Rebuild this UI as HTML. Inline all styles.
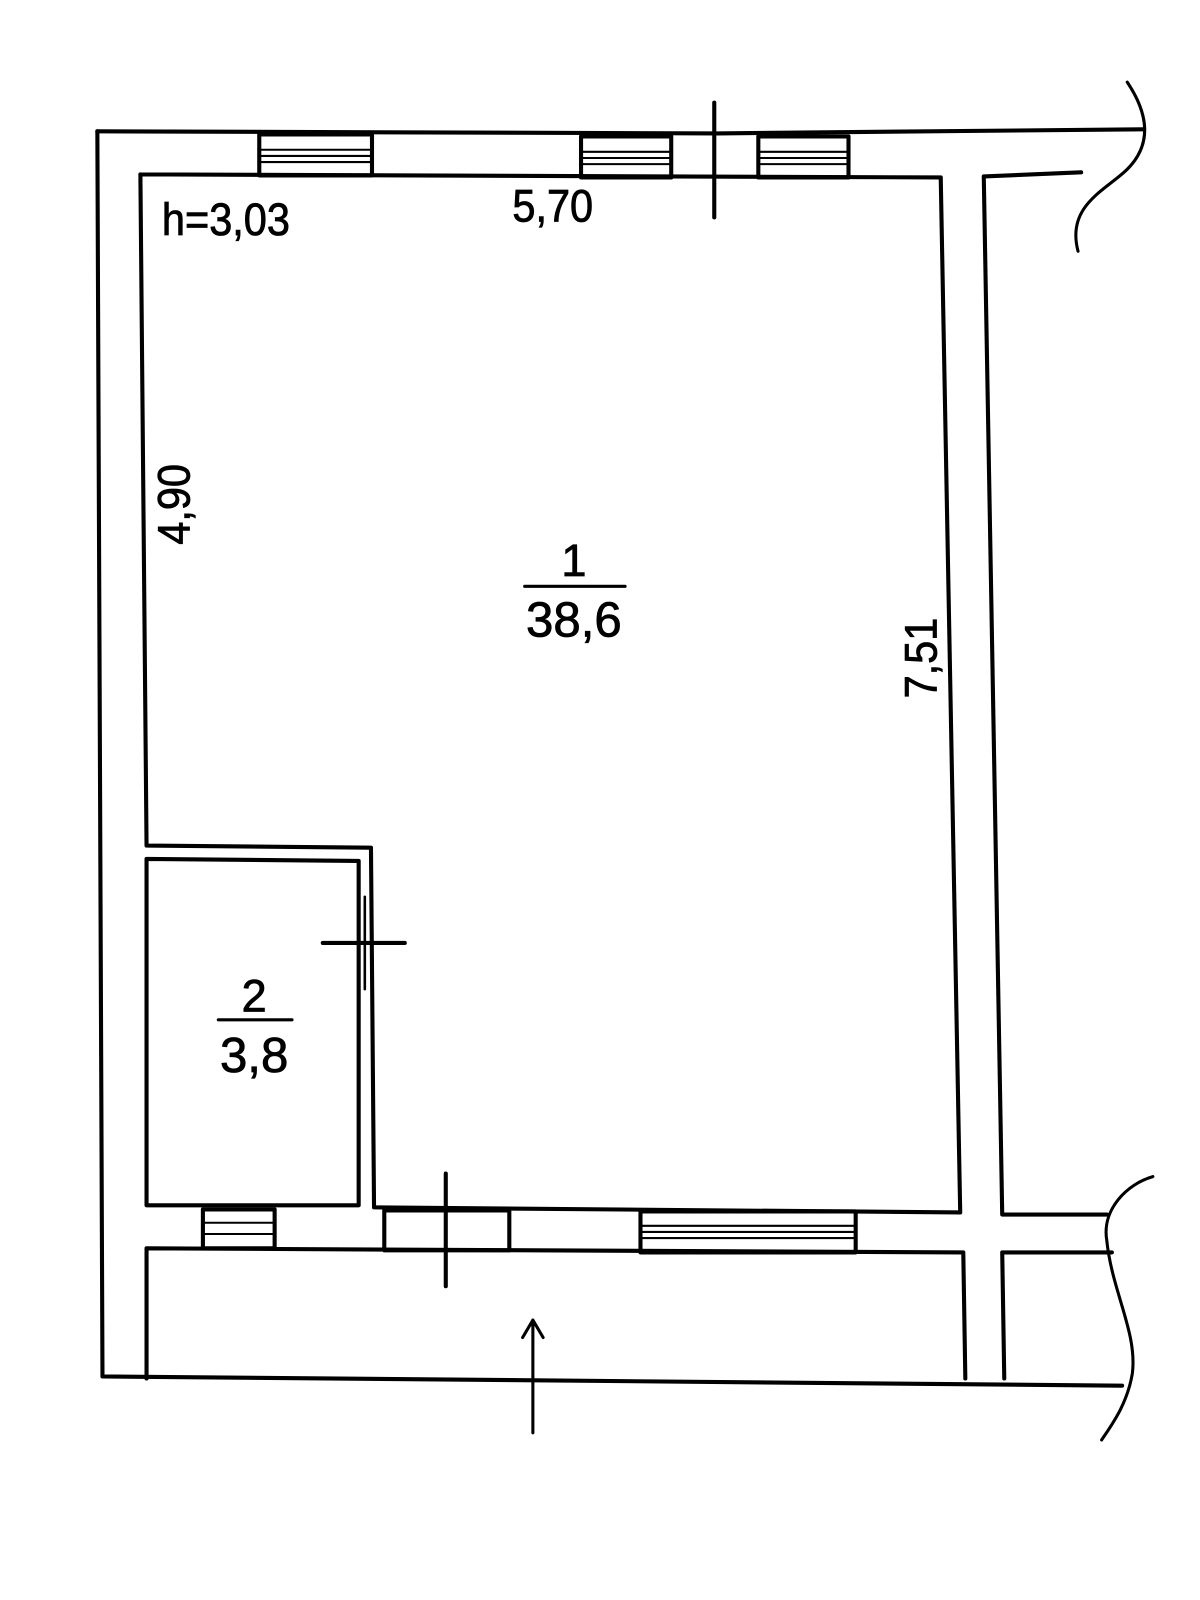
<!DOCTYPE html>
<html><head><meta charset="utf-8"><style>html,body{margin:0;padding:0;background:#fff}svg{display:block}</style></head>
<body>
<svg width="1200" height="1600" viewBox="0 0 1171 1561" xmlns="http://www.w3.org/2000/svg">
<g fill="none" stroke="#000" stroke-width="4" stroke-linecap="round" stroke-linejoin="round">
<path d="M95,128 L700,130 L1115,126"/>
<path d="M95,128 L100,1343 L1095,1352"/>
<path d="M137,170 L918,173 L937,1183 L365,1178 L362,827 L143,825 L137,170"/>
<rect x="253" y="131" width="110" height="40"/>
<path d="M255,146 H361 M255,152 H361 M255,158 H361" stroke-width="2"/>
<rect x="567" y="133" width="88" height="40"/>
<rect x="740" y="133" width="88" height="40"/>
<path d="M569,148 H653 M569,154 H653 M569,160 H653 M742,148 H826 M742,154 H826 M742,160 H826" stroke-width="2"/>
<path d="M697,100 L697,212"/>
<path d="M1055,168 L960,172 L978,1185 L1080,1185"/>
<path d="M1085,1222 L978,1222 L980,1345"/>
<path d="M1100,80 C1120,110 1125,140 1100,165 C1080,185 1040,200 1052,245" stroke-width="3"/>
<path d="M1125,1148 C1100,1155 1075,1180 1080,1210 C1085,1260 1110,1300 1105,1340 C1100,1370 1085,1390 1075,1405" stroke-width="3"/>
<path d="M143,838 L350,840 L350,1176 L143,1176 Z"/>
<path d="M356,875 V965" stroke-width="2.5"/>
<path d="M315,920 H395"/>
<path d="M143,1345 L143,1218 L940,1222 L942,1345"/>
<rect x="198" y="1180" width="70" height="38"/>
<path d="M200,1193 H266 M200,1204 H266" stroke-width="2"/>
<rect x="375" y="1181" width="122" height="39"/>
<path d="M435,1145 V1255"/>
<rect x="625" y="1182" width="210" height="40"/>
<path d="M627,1196 H833 M627,1202 H833 M627,1208 H833" stroke-width="2"/>
<path d="M520,1398 V1288 M510,1305 L520,1288 L530,1305" stroke-width="3"/>
<path d="M512,572 H610 M213,995 H285" stroke-width="3"/>
</g>
<g font-family="Liberation Sans, sans-serif" fill="#000" stroke="#000" stroke-width="0.8" font-size="44">
<text transform="translate(158,229) scale(0.92,1)">h=3,03</text>
<text transform="translate(500,216) scale(0.92,1)">5,70</text>
<text x="560" y="562" text-anchor="middle">1</text>
<text x="560" y="621" text-anchor="middle" font-size="48">38,6</text>
<text x="248" y="987" text-anchor="middle">2</text>
<text x="248" y="1046" text-anchor="middle" font-size="48">3,8</text>
<text transform="translate(185,492) rotate(-90) scale(0.92,1)" text-anchor="middle">4,90</text>
<text transform="translate(914,642) rotate(-90) scale(0.92,1)" text-anchor="middle">7,51</text>
</g>
</svg>
</body></html>
